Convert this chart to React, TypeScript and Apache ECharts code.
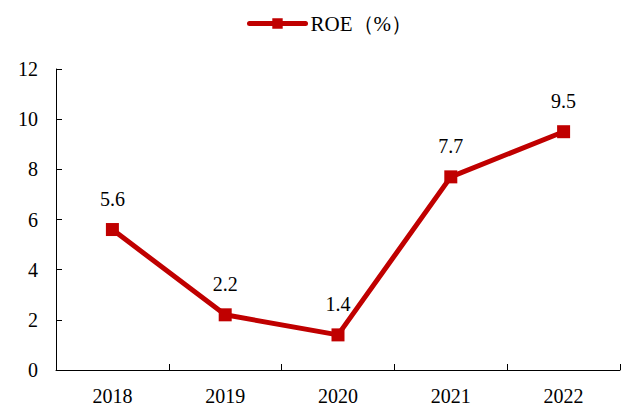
import React, { useEffect, useRef } from "react";
import * as echarts from "echarts";

const categories = ["2018", "2019", "2020", "2021", "2022"];
const roeValues = [5.6, 2.2, 1.4, 7.7, 9.5];
const seriesName = "ROE（%）";

export default function App() {
  const ref = useRef<HTMLDivElement>(null);
  useEffect(() => {
    if (!ref.current) return;
    const chart = echarts.init(ref.current, null, { renderer: "svg" });
    const font = "Liberation Serif";
    chart.setOption({
      animation: false,
      backgroundColor: "#ffffff",
      textStyle: { fontFamily: font },
      legend: {
        top: 8,
        left: 242,
        itemWidth: 56,
        itemHeight: 13,
        itemGap: 2,
        lineStyle: { width: 5, cap: "round", color: "#C00000" },
        textStyle: { fontFamily: font, fontSize: 21, color: "#000" },
        data: [seriesName],
      },
      grid: { left: 56, right: 8, top: 69, bottom: 34 },
      xAxis: {
        type: "category",
        data: categories,
        boundaryGap: true,
        axisLine: { lineStyle: { color: "#000", width: 1 } },
        axisTick: { show: true, inside: true, length: 6, lineStyle: { color: "#000" } },
        axisLabel: { fontFamily: font, fontSize: 20, color: "#000", margin: 16 },
        splitLine: { show: false },
      },
      yAxis: {
        type: "value",
        min: 0,
        max: 12,
        interval: 2,
        axisLine: { show: true, lineStyle: { color: "#000", width: 1 } },
        axisTick: { show: true, inside: true, length: 6, lineStyle: { color: "#000" } },
        axisLabel: { fontFamily: font, fontSize: 20, color: "#000", margin: 18 },
        splitLine: { show: false },
      },
      series: [
        {
          name: seriesName,
          type: "line",
          data: roeValues,
          symbol: "rect",
          symbolSize: 13,
          lineStyle: { color: "#C00000", width: 5 },
          itemStyle: { color: "#C00000" },
          label: {
            show: true,
            position: "top",
            distance: 14,
            fontFamily: font,
            fontSize: 20,
            color: "#000",
          },
        },
      ],
    });
    return () => chart.dispose();
  }, []);
  return (
    <div
      ref={ref}
      style={{ position: "fixed", left: 0, top: 0, width: 628, height: 406 }}
    />
  );
}
